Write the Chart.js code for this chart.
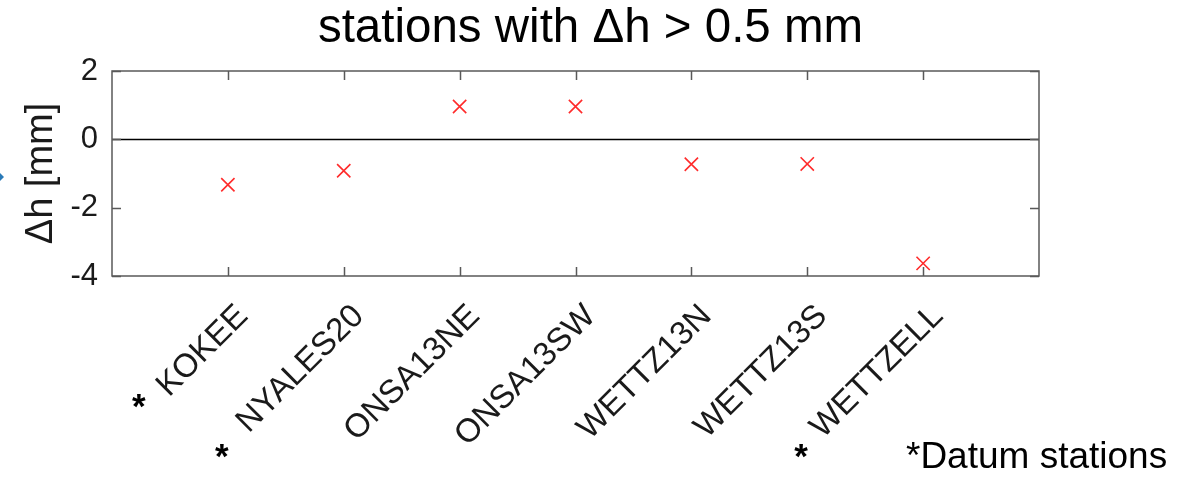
<!DOCTYPE html>
<html>
<head>
<meta charset="utf-8">
<script src="https://cdn.jsdelivr.net/npm/chart.js@4"></script>
<style>
  html, body { margin: 0; padding: 0; background: #fff; }
  #wrap { width: 1181px; height: 479px; }
</style>
</head>
<body>
<div id="wrap"><canvas id="c" width="1181" height="479"></canvas></div>
<script>
// Stations whose height change exceeds 0.5 mm
const stations = ['KOKEE', 'NYALES20', 'ONSA13NE', 'ONSA13SW', 'WETTZ13N', 'WETTZ13S', 'WETTZELL'];
const dh = [-1.33, -0.92, 0.96, 0.96, -0.73, -0.72, -3.63];
const datumStations = ['KOKEE', 'NYALES20', 'WETTZELL'];
const yTicks = [-4, -2, 0, 2];

const FONT = "'Liberation Sans', Arial, Helvetica, sans-serif";
const AXIS = '#595959';
const TEXT = '#1a1a1a';

// Title, box, inward tick marks, zero line and the datum-station notes
const framePlugin = {
  id: 'frame',
  beforeDatasetsDraw(chart) {
    const { ctx, chartArea: a, scales: { x, y } } = chart;
    ctx.save();
    // title centred on the whole figure
    ctx.fillStyle = '#000';
    ctx.font = '47.5px ' + FONT;
    ctx.textAlign = 'center';
    ctx.textBaseline = 'alphabetic';
    ctx.fillText('stations with \u0394h > 0.5 mm', chart.width / 2, 42);
    // zero line
    ctx.strokeStyle = '#000';
    ctx.lineWidth = 1.6;
    const y0 = Math.round(y.getPixelForValue(0)) + 0.5;
    ctx.beginPath(); ctx.moveTo(a.left, y0); ctx.lineTo(a.right, y0); ctx.stroke();
    // box
    ctx.strokeStyle = AXIS;
    ctx.lineWidth = 1.5;
    ctx.strokeRect(a.left, a.top, a.right - a.left, a.bottom - a.top);
    // inward ticks
    const tl = 9;
    ctx.beginPath();
    stations.forEach((_, i) => {
      const px = Math.round(x.getPixelForValue(i + 1)) + 0.5;
      ctx.moveTo(px, a.bottom); ctx.lineTo(px, a.bottom - tl);
      ctx.moveTo(px, a.top); ctx.lineTo(px, a.top + tl);
    });
    yTicks.forEach(v => {
      const py = Math.round(y.getPixelForValue(v)) + 0.5;
      ctx.moveTo(a.left, py); ctx.lineTo(a.left + tl, py);
      ctx.moveTo(a.right, py); ctx.lineTo(a.right - tl, py);
    });
    ctx.stroke();
    ctx.restore();
  },
  afterDraw(chart) {
    const { ctx, scales: { x } } = chart;
    ctx.save();
    ctx.fillStyle = '#000';
    ctx.font = 'bold 35px ' + FONT;
    ctx.textAlign = 'center';
    ctx.textBaseline = 'alphabetic';
    // datum-station asterisks next to their labels
    datumStations.forEach(name => {
      const i = stations.indexOf(name);
      const px = x.getPixelForValue(i + 1);
      if (i === 0) ctx.fillText('*', px - 89, 418);
      else ctx.fillText('*', px - 122, 468);
    });
    ctx.font = '37px ' + FONT;
    ctx.textAlign = 'left';
    ctx.fillText('*Datum stations', 906, 468);
    // small blue arrow tip at the left edge
    ctx.fillStyle = '#2a7ab8';
    ctx.beginPath();
    ctx.moveTo(0, 173); ctx.lineTo(4, 177); ctx.lineTo(0, 181); ctx.closePath();
    ctx.fill();
    ctx.restore();
  }
};

new Chart(document.getElementById('c'), {
  type: 'scatter',
  data: {
    datasets: [{
      data: dh.map((v, i) => ({ x: i + 1, y: v })),
      pointStyle: 'crossRot',
      pointRadius: 9.4,
      pointHoverRadius: 9.4,
      borderColor: '#ff2b2b',
      backgroundColor: '#ff2b2b',
      pointBorderWidth: 1.6,
      showLine: false
    }]
  },
  options: {
    responsive: false,
    animation: false,
    events: [],
    layout: { padding: { left: 0, right: 142, top: 71, bottom: 0 } },
    plugins: {
      legend: { display: false },
      tooltip: { enabled: false },
      title: { display: false }
    },
    scales: {
      x: {
        type: 'linear',
        min: 0, max: 8,
        grid: { display: false, drawTicks: false },
        border: { display: false },
        afterBuildTicks: s => { s.ticks = stations.map((_, i) => ({ value: i + 1 })); },
        afterFit: s => { s.height = 203; },
        ticks: {
          autoSkip: false,
          maxRotation: 45, minRotation: 45,
          labelOffset: 15,
          padding: 21,
          color: TEXT,
          font: { family: FONT, size: 33 },
          callback: v => stations[v - 1]
        }
      },
      y: {
        min: -4, max: 2,
        grid: { display: false, drawTicks: false },
        border: { display: false },
        afterBuildTicks: s => { s.ticks = yTicks.map(v => ({ value: v })); },
        afterFit: s => { s.width = 112; },
        title: {
          display: true,
          text: '\u0394h [mm]',
          color: TEXT,
          font: { family: FONT, size: 38, weight: 'normal', lineHeight: 1.2 },
          padding: { top: 19, bottom: 0 }
        },
        ticks: {
          padding: 14,
          color: TEXT,
          font: { family: FONT, size: 31 },
          callback: v => String(v)
        }
      }
    }
  },
  plugins: [framePlugin]
});
</script>
</body>
</html>
